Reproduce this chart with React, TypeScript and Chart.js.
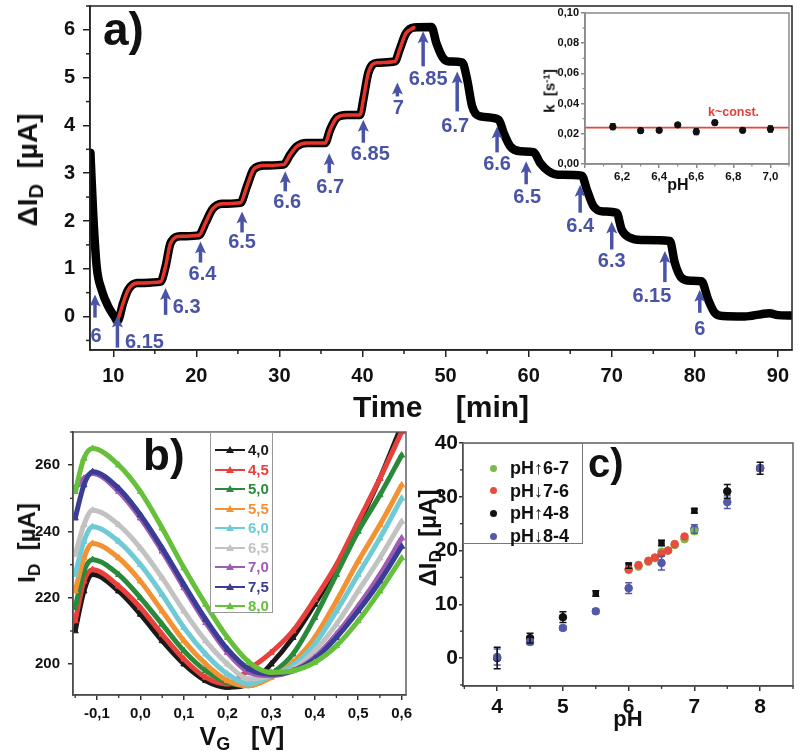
import React, { useEffect, useRef } from 'react';
import { Chart, registerables } from 'chart.js';
Chart.register(...registerables);

const FONT = '"Liberation Sans", Arial, Helvetica, sans-serif';

// ---------- Panel a: drain current change vs time ----------
const timeMin = [7.25, 7.6, 8.0, 8.6, 9.4, 10.2, 10.5, 11.2, 11.8, 12.9, 15.7, 16.3, 16.9, 18.1, 20.3, 21.1, 21.9, 23.1, 25.3, 26.1, 26.9, 28.1, 30.5, 31.3, 32.1, 33.3, 35.5, 36.1, 36.9, 38.1, 39.7, 40.1, 40.7, 41.7, 43.9, 44.5, 45.2, 46.2, 48.3, 48.9, 49.7, 50.4, 52.0, 52.6, 53.2, 54.2, 56.4, 57.0, 57.8, 59.0, 60.6, 61.4, 62.4, 63.5, 66.4, 67.0, 67.8, 69.0, 70.6, 71.2, 72.2, 73.5, 77.0, 77.6, 78.4, 79.5, 80.8, 81.6, 82.4, 83.4, 86.0, 88.0, 89.0, 90.0, 91.7];
const deltaID = [3.43, 2.1, 1.05, 0.56, 0.21, -0.02, -0.1, 0.29, 0.56, 0.7, 0.73, 1.05, 1.54, 1.68, 1.7, 1.96, 2.24, 2.36, 2.38, 2.73, 3.08, 3.16, 3.18, 3.39, 3.56, 3.63, 3.63, 3.91, 4.16, 4.22, 4.22, 4.54, 5.1, 5.31, 5.34, 5.6, 5.92, 6.05, 6.06, 5.72, 5.41, 5.34, 5.32, 4.96, 4.4, 4.19, 4.12, 3.84, 3.56, 3.46, 3.44, 3.21, 3.04, 2.97, 2.95, 2.66, 2.31, 2.2, 2.17, 1.82, 1.65, 1.6, 1.58, 1.12, 0.81, 0.75, 0.74, 0.36, 0.08, 0.01, 0.0, 0.05, 0.07, 0.03, 0.02];
const fitFrom = 10.5;
const fitTo = 47.0;

// pH change markers
const arrowTime = [7.8, 10.5, 16.3, 20.5, 25.5, 30.7, 36.0, 40.1, 44.2, 47.3, 51.4, 56.2, 59.7, 66.2, 70.0, 76.4, 80.6];
const arrowTip = [0.46, 0.02, 0.6, 1.57, 2.2, 3.04, 3.42, 4.12, 4.9, 5.97, 5.13, 3.98, 3.25, 2.76, 1.99, 1.37, 0.56];
const arrowPH = ['6', '6.15', '6.3', '6.4', '6.5', '6.6', '6.7', '6.85', '7', '6.85', '6.7', '6.6', '6.5', '6.4', '6.3', '6.15', '6'];
// arrow styling (pixels)
const arrowLen = [23, 32, 27, 21, 21, 20, 20, 23, 14, 35, 40, 26, 23, 28, 28, 31, 23];
const arrowDx = [1, 27, 21, 2, 0, 2, 1, 7, 1, 5, -2, 0, 1, 0, 0, -13, 0];
const arrowDy = [19, -5, -7, 12, 10, 11, 14, 12, 12, 13, 15, 12, 13, 14, 12, 14, 17];

// inset: rate constant vs pH
const insetPH = [6.15, 6.3, 6.4, 6.5, 6.6, 6.7, 6.85, 7.0];
const insetK = [0.0247, 0.0221, 0.0223, 0.0259, 0.0214, 0.0274, 0.0223, 0.0232];
const insetKErr = [0.002, 0.0015, 0.001, 0.001, 0.002, 0.0015, 0.0015, 0.002];
const kConst = 0.0241;
const insetXMin = 6.0;
const insetXMax = 7.1;

// ---------- Panel b: transfer curves ----------
const vG = [-0.15, -0.13, -0.11, -0.05, 0.0, 0.05, 0.1, 0.15, 0.2, 0.25, 0.3, 0.35, 0.4, 0.45, 0.5, 0.55, 0.6];
const pHLabelsB = ['4,0', '4,5', '5,0', '5,5', '6,0', '6,5', '7,0', '7,5', '8,0'];
const iD_40 = [210, 222, 227, 222, 215, 207, 200, 195, 193, 194, 200, 208, 218, 229, 242, 256, 272];
const iD_45 = [213, 225, 228.5, 223.5, 217, 209, 201.5, 196, 194, 198.5, 203.5, 210, 219.5, 230, 243, 256, 270];
const iD_50 = [217, 228, 231.5, 227, 220, 212, 204, 198, 194.5, 193.5, 197, 203, 214, 227, 240, 251, 263];
const iD_55 = [222, 232, 236.4, 232, 225, 216, 207, 200, 195, 193.5, 196, 200.5, 208, 219, 231, 242, 254];
const iD_60 = [227, 237, 241.4, 237, 230, 221, 211, 203, 197, 194, 196.5, 199.5, 206, 216, 227, 238, 250];
const iD_65 = [233, 242, 246.4, 242, 235, 226, 216, 207, 200, 195.5, 196.5, 198.5, 204, 212, 222, 232, 243];
const iD_70 = [253, 256, 257.5, 252, 244, 234, 223, 212.5, 203.5, 197.5, 196.5, 198, 202, 209, 217.5, 227, 238];
const iD_75 = [244, 254, 258, 253, 245, 235, 224, 213.5, 204.5, 198.5, 197, 198, 201.5, 208, 216, 225, 235.5];
const iD_80 = [252, 262, 265, 260, 252, 241, 229, 218, 208, 200.5, 197.5, 198, 200.5, 205.5, 213, 222, 232];
const seriesB = [iD_40, iD_45, iD_50, iD_55, iD_60, iD_65, iD_70, iD_75, iD_80];
const colorsB = ['#1a1a1a', '#e8413c', '#2a8a3a', '#f39232', '#6ecbd6', '#c2c2c2', '#a05cb5', '#3a3d94', '#66c03b'];

// ---------- Panel c: delta I_D vs pH ----------
const phAll = [4, 4.5, 5, 5.5, 6, 6.5, 7, 7.5, 8];
const dUp48 = [0, 3.7, 7.6, 12.0, 17.2, 21.4, 27.4, 31.0, 35.3];
const errUp48 = [2.0, 0.9, 1.0, 0.5, 0.5, 0.5, 0.4, 1.3, 1.1];
const dDown84 = [0.2, 3.0, 5.6, 8.7, 13.0, 17.7, 24.0, 29.0, 35.3];
const errDown84 = [1.5, 0.5, 0.4, 0.4, 1.0, 1.3, 0.8, 1.2, 0.5];
const phFine = [6.0, 6.15, 6.3, 6.4, 6.5, 6.6, 6.7, 6.85, 7.0];
const dUp67 = [16.4, 17.0, 17.9, 18.6, 19.8, 20.0, 21.0, 22.1, 23.6];
const dDown76 = [16.5, 17.3, 18.1, 18.7, 19.4, 20.0, 21.2, 22.6, 23.8];
const seriesNamesC = ['pH\u21916-7', 'pH\u21937-6', 'pH\u21914-8', 'pH\u21938-4'];
const colorsC = ['#7cb84a', '#e84c3d', '#111111', '#525aa8'];

const ARROW_COLOR = '#4a54a6';

// ---------- plugins ----------
const framePlugin = {
  id: 'frame',
  afterDatasetsDraw(chart: any, _a: any, opts: any) {
    const { ctx, chartArea: a } = chart;
    ctx.save();
    ctx.strokeStyle = opts.color || '#222';
    ctx.lineWidth = opts.width || 1.5;
    ctx.strokeRect(a.left, a.top, a.right - a.left, a.bottom - a.top);
    ctx.restore();
  },
};

const minorPlugin = {
  id: 'minorTicks',
  afterDraw(chart: any, _a: any, opts: any) {
    const { ctx, chartArea: a, scales } = chart;
    ctx.save();
    ctx.strokeStyle = opts.color || '#222';
    ctx.lineWidth = opts.width || 1.5;
    const draw = (sc: any, step: number, major: number, horiz: boolean) => {
      const s = Math.ceil(sc.min / step - 1e-9);
      const e = Math.floor(sc.max / step + 1e-9);
      for (let k = s; k <= e; k++) {
        const v = k * step;
        const r = v / major;
        if (Math.abs(r - Math.round(r)) < 1e-6) continue;
        const p = sc.getPixelForValue(v);
        ctx.beginPath();
        if (horiz) {
          ctx.moveTo(p, a.bottom);
          ctx.lineTo(p, a.bottom + opts.len);
        } else {
          ctx.moveTo(a.left, p);
          ctx.lineTo(a.left - opts.len, p);
        }
        ctx.stroke();
      }
    };
    if (opts.x) draw(scales.x, opts.x.step, opts.x.major, true);
    if (opts.y) draw(scales.y, opts.y.step, opts.y.major, false);
    ctx.restore();
  },
};

const errorPlugin = {
  id: 'errorBars',
  afterDatasetsDraw(chart: any, _a: any, opts: any) {
    const { ctx } = chart;
    const ys = chart.scales.y;
    ctx.save();
    chart.data.datasets.forEach((ds: any, i: number) => {
      if (!ds.errors) return;
      const meta = chart.getDatasetMeta(i);
      ctx.strokeStyle = ds.borderColor;
      ctx.lineWidth = opts.width || 1.5;
      meta.data.forEach((pt: any, j: number) => {
        const e = ds.errors[j];
        if (!e) return;
        const v = ds.data[j].y;
        const y1 = ys.getPixelForValue(v + e);
        const y2 = ys.getPixelForValue(v - e);
        const c = opts.cap || 3;
        ctx.beginPath();
        ctx.moveTo(pt.x, y1); ctx.lineTo(pt.x, y2);
        ctx.moveTo(pt.x - c, y1); ctx.lineTo(pt.x + c, y1);
        ctx.moveTo(pt.x - c, y2); ctx.lineTo(pt.x + c, y2);
        ctx.stroke();
      });
    });
    ctx.restore();
  },
};

const arrowPlugin = {
  id: 'phArrows',
  afterDatasetsDraw(chart: any) {
    const { ctx } = chart;
    const xs = chart.scales.x;
    const ys = chart.scales.y;
    ctx.save();
    ctx.fillStyle = ARROW_COLOR;
    ctx.strokeStyle = ARROW_COLOR;
    ctx.font = `bold 20px ${FONT}`;
    ctx.textAlign = 'center';
    ctx.textBaseline = 'middle';
    arrowTime.forEach((t, i) => {
      const px = xs.getPixelForValue(t);
      const tip = ys.getPixelForValue(arrowTip[i]);
      const tail = tip + arrowLen[i];
      ctx.lineWidth = 3.5;
      ctx.beginPath();
      ctx.moveTo(px, tip + 8);
      ctx.lineTo(px, tail);
      ctx.stroke();
      ctx.beginPath();
      ctx.moveTo(px, tip);
      ctx.lineTo(px - 5.5, tip + 12);
      ctx.lineTo(px, tip + 9.5);
      ctx.lineTo(px + 5.5, tip + 12);
      ctx.closePath();
      ctx.fill();
      ctx.fillText(arrowPH[i], px + arrowDx[i], tail + arrowDy[i]);
    });
    ctx.restore();
  },
};

type AxisOpt = {
  min: number; max: number; step: number; size: number; horizontal: boolean;
  font: number; tickLen: number; pad: number; fmt: (v: number) => string; color?: string;
};
function linAxis(o: AxisOpt) {
  const col = o.color || '#222';
  return {
    type: 'linear',
    min: o.min,
    max: o.max,
    border: { display: true, color: col, width: 1.5 },
    grid: { display: true, drawOnChartArea: false, drawTicks: true, tickLength: o.tickLen, color: col, lineWidth: 1.5 },
    ticks: {
      stepSize: o.step,
      includeBounds: false,
      autoSkip: false,
      maxRotation: 0,
      minRotation: 0,
      padding: o.pad,
      color: '#111',
      font: { family: FONT, size: o.font, weight: 'bold' },
      callback: (v: any) => o.fmt(Number(v)),
    },
    afterFit: (s: any) => {
      if (o.horizontal) s.height = o.size; else s.width = o.size;
      s.paddingTop = 0; s.paddingBottom = 0; s.paddingLeft = 0; s.paddingRight = 0;
    },
  };
}

const baseOpts = {
  animation: false,
  responsive: false,
  maintainAspectRatio: false,
  events: [],
};

const comma = (v: number, d: number) => v.toFixed(d).replace('.', ',');

function configA() {
  const pts = timeMin.map((t, i) => ({ x: t, y: deltaID[i] }));
  const fit = pts.filter((p) => p.x >= fitFrom && p.x <= fitTo);
  return {
    type: 'line',
    data: {
      datasets: [
        { data: fit, borderColor: '#e8352b', borderWidth: 3.5, pointRadius: 0, cubicInterpolationMode: 'monotone', fill: false, borderCapStyle: 'round' },
        { data: pts, borderColor: '#000', borderWidth: 8.5, pointRadius: 0, cubicInterpolationMode: 'monotone', fill: false, borderCapStyle: 'round', borderJoinStyle: 'round' },
      ],
    },
    options: {
      ...baseOpts,
      layout: { padding: { left: 0, top: 6, right: 8, bottom: 0 } },
      plugins: {
        legend: { display: false },
        tooltip: { enabled: false },
        frame: { color: '#222', width: 1.5 },
        minorTicks: { len: 4, color: '#222', width: 1.5, x: { step: 5, major: 10 }, y: { step: 0.5, major: 1 } },
      },
      scales: {
        x: linAxis({ min: 7.2, max: 91.7, step: 10, size: 50, horizontal: true, font: 20, tickLen: 7, pad: 7, fmt: (v) => String(Math.round(v)) }),
        y: linAxis({ min: -0.7, max: 6.5, step: 1, size: 90, horizontal: false, font: 20, tickLen: 7, pad: 8, fmt: (v) => String(Math.round(v)) }),
      },
    },
    plugins: [framePlugin, minorPlugin, arrowPlugin],
  };
}

function configInset() {
  const pts = insetPH.map((p, i) => ({ x: p, y: insetK[i] }));
  return {
    type: 'scatter',
    data: {
      datasets: [
        { data: pts, pointRadius: 3.2, backgroundColor: '#111', borderColor: '#111', errors: insetKErr },
        { type: 'line', data: [{ x: insetXMin, y: kConst }, { x: insetXMax, y: kConst }], borderColor: '#e8453c', borderWidth: 1.6, pointRadius: 0 },
      ],
    },
    options: {
      ...baseOpts,
      layout: { padding: { left: 0, top: 8, right: 9, bottom: 0 } },
      plugins: {
        legend: { display: false },
        tooltip: { enabled: false },
        frame: { color: '#8a8a8a', width: 1.5 },
        errorBars: { width: 1.3, cap: 2.5 },
        minorTicks: { len: 2.5, color: '#8a8a8a', width: 1.2, x: { step: 0.1, major: 0.2 }, y: { step: 0.01, major: 0.02 } },
      },
      scales: {
        x: linAxis({ min: insetXMin, max: insetXMax, step: 0.2, size: 41, horizontal: true, font: 11.5, tickLen: 4, pad: 2, color: '#8a8a8a', fmt: (v) => (Math.abs(v - insetXMin) < 1e-6 ? '' : comma(v, 1)) }),
        y: linAxis({ min: 0, max: 0.1, step: 0.02, size: 55, horizontal: false, font: 11, tickLen: 4, pad: 2, color: '#8a8a8a', fmt: (v) => comma(v, 2) }),
      },
    },
    plugins: [framePlugin, minorPlugin, errorPlugin],
  };
}

function configB() {
  const datasets = seriesB.map((vals, k) => ({
    data: vG.map((v, i) => ({ x: v, y: vals[i] })),
    borderColor: colorsB[k],
    backgroundColor: colorsB[k],
    borderWidth: 5,
    pointStyle: 'triangle',
    pointRadius: 3.6,
    pointBorderWidth: 1,
    cubicInterpolationMode: 'monotone',
    fill: false,
    order: seriesB.length - k,
  }));
  return {
    type: 'line',
    data: { datasets },
    options: {
      ...baseOpts,
      layout: { padding: { left: 0, top: 12, right: 14, bottom: 0 } },
      plugins: {
        legend: { display: false },
        tooltip: { enabled: false },
        frame: { color: '#555', width: 1.4 },
        minorTicks: { len: 3, color: '#333', width: 1.3, x: { step: 0.05, major: 0.1 }, y: { step: 10, major: 20 } },
      },
      scales: {
        x: linAxis({ min: -0.155, max: 0.61, step: 0.1, size: 60, horizontal: true, font: 15, tickLen: 5, pad: 5, color: '#333', fmt: (v) => comma(v, 1) }),
        y: linAxis({ min: 190.7, max: 270, step: 20, size: 73, horizontal: false, font: 15, tickLen: 5, pad: 8, color: '#333', fmt: (v) => String(Math.round(v)) }),
      },
    },
    plugins: [framePlugin, minorPlugin],
  };
}

function configC() {
  const toPts = (xs: number[], ys: number[]) => xs.map((x, i) => ({ x, y: ys[i] }));
  const downFine = phFine.slice(0, 8).reverse();
  const downFineVals = dDown76.slice(0, 8).reverse();
  return {
    type: 'scatter',
    data: {
      datasets: [
        { data: toPts(downFine, downFineVals), backgroundColor: colorsC[1], borderColor: colorsC[1], pointRadius: 3.8 },
        { data: toPts(phFine, dUp67), backgroundColor: colorsC[0], borderColor: colorsC[0], pointRadius: 3.8 },
        { data: toPts(phAll.slice().reverse(), dDown84.slice().reverse()), backgroundColor: colorsC[3], borderColor: colorsC[3], pointRadius: 3.8, errors: errDown84.slice().reverse() },
        { data: toPts(phAll, dUp48), backgroundColor: colorsC[2], borderColor: colorsC[2], pointRadius: 3.8, pointStyle: ['circle', 'circle', 'circle', 'rect', 'rect', 'rect', 'rect', 'circle', 'circle'], errors: errUp48 },
      ],
    },
    options: {
      ...baseOpts,
      layout: { padding: { left: 0, top: 23, right: 7, bottom: 0 } },
      plugins: {
        legend: { display: false },
        tooltip: { enabled: false },
        frame: { color: '#555', width: 1.4 },
        errorBars: { width: 1.5, cap: 3.5 },
        minorTicks: { len: 3, color: '#333', width: 1.3, x: { step: 0.5, major: 1 }, y: { step: 5, major: 10 } },
      },
      scales: {
        x: linAxis({ min: 3.48, max: 8.5, step: 1, size: 69, horizontal: true, font: 21, tickLen: 5, pad: 4, color: '#333', fmt: (v) => String(Math.round(v)) }),
        y: linAxis({ min: -5.2, max: 40, step: 10, size: 43, horizontal: false, font: 21, tickLen: 4, pad: 1, color: '#333', fmt: (v) => String(Math.round(v)) }),
      },
    },
    plugins: [framePlugin, minorPlugin, errorPlugin],
  };
}

const subStyle: React.CSSProperties = { fontSize: '0.72em', verticalAlign: '-0.3em', lineHeight: 0 };
const supStyle: React.CSSProperties = { fontSize: '0.65em', verticalAlign: '0.55em', lineHeight: 0 };

function HText(props: { cx: number; base: number; size: number; children: React.ReactNode; color?: string; left?: boolean }) {
  const { cx, base, size, children, color, left } = props;
  return (
    <div
      style={{
        position: 'absolute',
        left: cx,
        top: base - 0.8465 * size,
        fontSize: size,
        lineHeight: 1,
        fontWeight: 'bold',
        whiteSpace: 'pre',
        color: color || '#111',
        transform: left ? undefined : 'translateX(-50%)',
      }}
    >
      {children}
    </div>
  );
}

function VText(props: { cx: number; cy: number; size: number; children: React.ReactNode }) {
  const { cx, cy, size, children } = props;
  return (
    <div
      style={{
        position: 'absolute',
        left: cx,
        top: cy,
        fontSize: size,
        lineHeight: 1,
        fontWeight: 'bold',
        whiteSpace: 'pre',
        color: '#111',
        transform: 'translate(-50%,-50%) rotate(-90deg)',
      }}
    >
      {children}
    </div>
  );
}

export default function App() {
  const aRef = useRef<HTMLCanvasElement>(null);
  const insetRef = useRef<HTMLCanvasElement>(null);
  const bRef = useRef<HTMLCanvasElement>(null);
  const cRef = useRef<HTMLCanvasElement>(null);

  useEffect(() => {
    const charts: Chart[] = [];
    charts.push(new Chart(aRef.current as HTMLCanvasElement, configA() as any));
    charts.push(new Chart(insetRef.current as HTMLCanvasElement, configInset() as any));
    charts.push(new Chart(bRef.current as HTMLCanvasElement, configB() as any));
    charts.push(new Chart(cRef.current as HTMLCanvasElement, configC() as any));
    return () => charts.forEach((c) => c.destroy());
  }, []);

  const cv = (l: number, t: number, w: number, h: number): React.CSSProperties => ({ position: 'absolute', left: l, top: t, width: w, height: h, display: 'block' });

  return (
    <div style={{ position: 'absolute', left: 0, top: 0, width: 800, height: 755, background: '#fff', overflow: 'hidden', fontFamily: FONT, color: '#111' }}>
      <canvas ref={aRef} width={800} height={400} style={cv(0, 0, 800, 400)} />
      <canvas ref={insetRef} width={268} height={200} style={cv(530, 5, 268, 200)} />
      <canvas ref={bRef} width={420} height={335} style={cv(0, 420, 420, 335)} />
      <canvas ref={cRef} width={380} height={335} style={cv(420, 420, 380, 335)} />

      {/* Panel a labels */}
      <HText cx={103} base={45} size={46} left>a)</HText>
      <VText cx={28} cy={170} size={28}>
        {'\u0394I'}<sub style={subStyle}>D</sub>{'  [\u00b5A]'}
      </VText>
      <HText cx={441} base={417} size={30}>{'Time    [min]'}</HText>

      {/* inset labels */}
      <VText cx={549} cy={91} size={15}>
        {'k  [s'}<sup style={supStyle}>-1</sup>{']'}
      </VText>
      <HText cx={678} base={191} size={16}>pH</HText>
      <HText cx={708} base={117} size={12.5} color="#e0403a" left>k~const.</HText>

      {/* Panel b labels */}
      <HText cx={143} base={470} size={44} left>b)</HText>
      <VText cx={27} cy={543} size={24}>
        {'I'}<sub style={subStyle}>D</sub>{'  [\u00b5A]'}
      </VText>
      <HText cx={242} base={745} size={25}>
        {'V'}<sub style={subStyle}>G</sub>{'   [V]'}
      </HText>
      <div style={{ position: 'absolute', left: 210, top: 432, width: 63, height: 181, border: '1px solid #999', background: '#fff', boxSizing: 'border-box' }} />
      {pHLabelsB.map((lab, i) => {
        const cy = 450 + i * 19.5;
        const c = colorsB[i];
        return (
          <React.Fragment key={lab}>
            <div style={{ position: 'absolute', left: 215, top: cy - 1, width: 30, height: 2, background: c }} />
            <div style={{ position: 'absolute', left: 226, top: cy - 4, width: 0, height: 0, borderLeft: '4px solid transparent', borderRight: '4px solid transparent', borderBottom: `7px solid ${c}` }} />
            <div style={{ position: 'absolute', left: 248, top: cy - 9, fontSize: 15, fontWeight: 'bold', lineHeight: '18px', color: c }}>{lab}</div>
          </React.Fragment>
        );
      })}

      {/* Panel c labels */}
      <HText cx={588} base={477} size={40} left>c)</HText>
      <VText cx={428} cy={538} size={24}>
        {'\u0394I'}<sub style={subStyle}>D</sub>{'  [\u00b5A]'}
      </VText>
      <HText cx={628} base={727} size={22}>pH</HText>
      <div style={{ position: 'absolute', left: 463, top: 443, width: 120, height: 101, border: '1px solid #777', background: '#fff', boxSizing: 'border-box' }} />
      {seriesNamesC.map((name, i) => {
        const cy = 468 + i * 22.7;
        return (
          <React.Fragment key={name}>
            <div style={{ position: 'absolute', left: 489.5, top: cy - 3.5, width: 7, height: 7, borderRadius: '50%', background: colorsC[i] }} />
            <div style={{ position: 'absolute', left: 510, top: cy - 11, fontSize: 18, fontWeight: 'bold', lineHeight: '22px', color: '#111' }}>{name}</div>
          </React.Fragment>
        );
      })}
    </div>
  );
}
